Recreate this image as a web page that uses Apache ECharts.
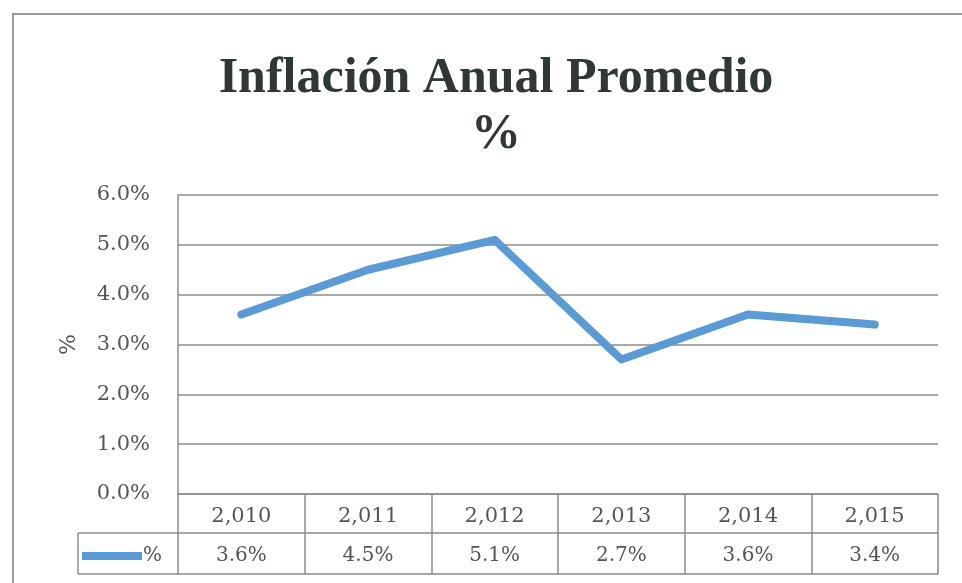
<!DOCTYPE html>
<html>
<head>
<meta charset="utf-8">
<script src="https://cdn.jsdelivr.net/npm/echarts@6/dist/echarts.min.js"></script>
<style>
html,body{margin:0;padding:0;background:#fff;}
#chart{width:962px;height:583px;}
</style>
</head>
<body>
<div id="chart"></div>
<script>
var years = ['2,010', '2,011', '2,012', '2,013', '2,014', '2,015'];
var inflation = [3.6, 4.5, 5.1, 2.7, 3.6, 3.4];
var yTicks = [0, 1, 2, 3, 4, 5, 6];
var seriesName = '%';
var titleText = 'Inflación Anual Promedio\n%';

var gray = '#8c8c8c';
var textGray = '#555';
var serif = 'DejaVu Serif';

var chart = echarts.init(document.getElementById('chart'));
chart.setOption({
  animation: false,
  backgroundColor: '#fff',
  title: {
    text: titleText,
    left: 491,
    top: 46,
    textAlign: 'center',
    textStyle: {
      fontFamily: 'Liberation Serif',
      fontWeight: 'bold',
      fontSize: 50,
      lineHeight: 56,
      color: '#2f3835'
    }
  },
  legend: {
    data: [seriesName],
    left: 82,
    top: 546,
    padding: 0,
    icon: 'rect',
    itemWidth: 60,
    itemHeight: 8,
    itemGap: 0,
    textStyle: { fontFamily: serif, fontSize: 20, color: textGray, padding: [0, 0, 0, -4] }
  },
  grid: { left: 178, right: 24, top: 195, bottom: 89, containLabel: false },
  xAxis: [
    {
      type: 'category',
      data: years,
      position: 'bottom',
      boundaryGap: true,
      axisLine: { show: true, lineStyle: { color: gray, width: 1.5 } },
      axisTick: { show: true, length: 80, interval: 0, lineStyle: { color: gray, width: 1.5 } },
      axisLabel: { margin: 12, fontFamily: serif, fontSize: 21, color: textGray, interval: 0 }
    },
    {
      type: 'category',
      data: years,
      position: 'bottom',
      offset: 39,
      axisLine: { show: true, lineStyle: { color: gray, width: 1.5 } },
      axisTick: { show: false },
      axisLabel: {
        margin: 13, fontFamily: serif, fontSize: 20, color: textGray, interval: 0,
        formatter: function (v, i) { return inflation[i].toFixed(1) + '%'; }
      }
    },
    {
      type: 'category',
      data: years,
      position: 'bottom',
      offset: 80,
      axisLine: { show: true, lineStyle: { color: gray, width: 1.5 } },
      axisTick: { show: false },
      axisLabel: { show: false }
    }
  ],
  yAxis: {
    type: 'value',
    min: yTicks[0],
    max: yTicks[yTicks.length - 1],
    interval: 1,
    name: '%',
    nameLocation: 'middle',
    nameRotate: 90,
    nameGap: 98,
    nameTextStyle: { fontFamily: serif, fontSize: 22, color: textGray },
    axisLine: { show: true, lineStyle: { color: gray, width: 1.5 } },
    axisTick: { show: false },
    splitLine: { show: true, lineStyle: { color: gray, width: 1.5 } },
    axisLabel: {
      margin: 28,
      fontFamily: serif, fontSize: 21, color: textGray,
      formatter: function (v) { return v.toFixed(1) + '%'; }
    }
  },
  graphic: [
    { type: 'rect', shape: { x: 13, y: 14, width: 1000, height: 1000 }, style: { fill: 'none', stroke: '#999', lineWidth: 2 }, silent: true },
    { type: 'line', shape: { x1: 78, y1: 533, x2: 178, y2: 533 }, style: { stroke: gray, lineWidth: 1.5 } },
    { type: 'line', shape: { x1: 78, y1: 574, x2: 178, y2: 574 }, style: { stroke: gray, lineWidth: 1.5 } },
    { type: 'line', shape: { x1: 78, y1: 533, x2: 78, y2: 574 }, style: { stroke: gray, lineWidth: 1.5 } }
  ],
  series: [{
    name: seriesName,
    type: 'line',
    data: inflation,
    symbol: 'none',
    lineStyle: { color: '#5b9bd5', width: 8, cap: 'round', join: 'round' },
    itemStyle: { color: '#5b9bd5' }
  }]
});
</script>
</body>
</html>
